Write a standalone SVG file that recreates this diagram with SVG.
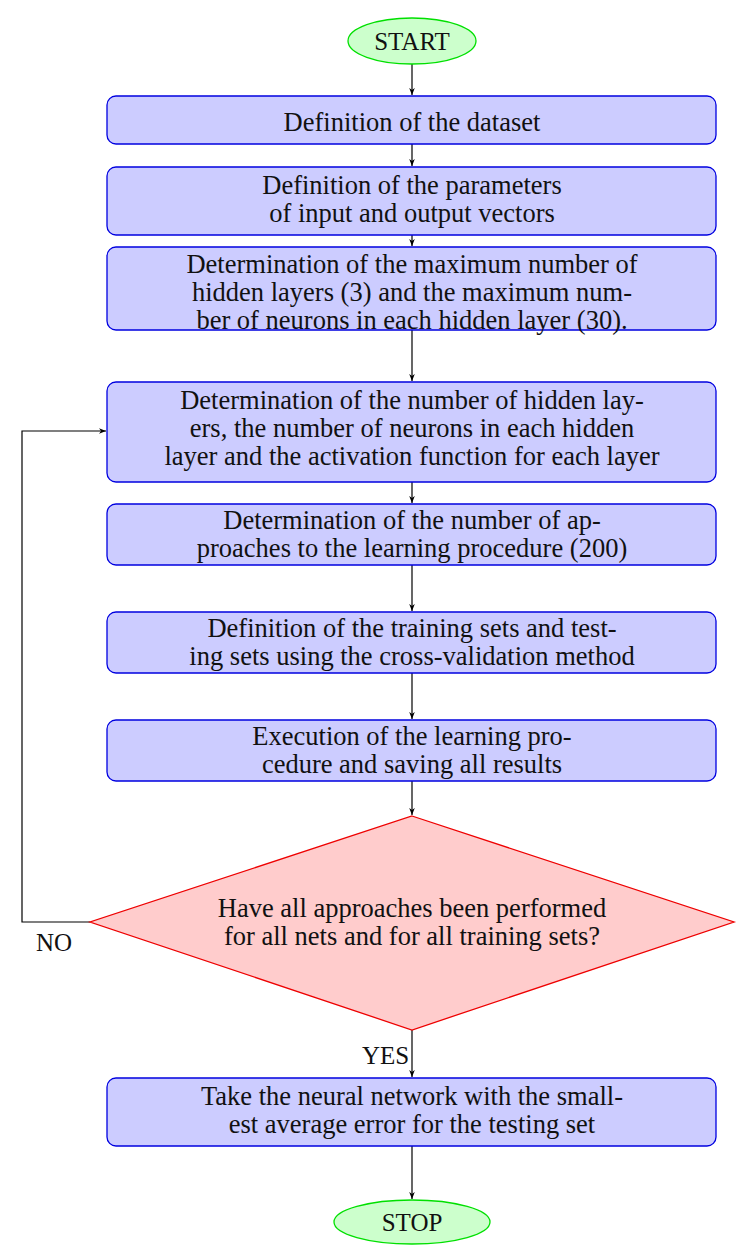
<svg xmlns="http://www.w3.org/2000/svg" width="751" height="1256" viewBox="0 0 751 1256">
<defs>
<marker id="ah" viewBox="0 0 10 10" refX="10" refY="5" markerWidth="7" markerHeight="7" orient="auto" markerUnits="userSpaceOnUse">
<path d="M0,1 L10,5 L0,9 L3,5 Z" fill="#000"/>
</marker>
</defs>
<style>
.box{fill:#ccccff;stroke:#0000e0;stroke-width:1.3}
.term{fill:#ccffcc;stroke:#00e000;stroke-width:1.3}
.dec{fill:#ffcccc;stroke:#ee0000;stroke-width:1.3}
.t{font-family:"Liberation Serif","DejaVu Serif",serif;font-size:26.5px;fill:#111;text-anchor:middle}
.ts{font-family:"Liberation Serif","DejaVu Serif",serif;font-size:25px;fill:#111;text-anchor:middle}
.lbl{font-family:"Liberation Serif","DejaVu Serif",serif;font-size:25px;fill:#111}
.c{fill:none;stroke:#000;stroke-width:1.2;marker-end:url(#ah)}
</style>
<rect width="751" height="1256" fill="#fff"/>
<g id="connectors">
<path class="c" d="M412,64 V95"/>
<path class="c" d="M412,144 V166"/>
<path class="c" d="M412,235 V246"/>
<path class="c" d="M412,330 V381"/>
<path class="c" d="M412,482 V503"/>
<path class="c" d="M412,565 V611"/>
<path class="c" d="M412,673 V719"/>
<path class="c" d="M412,781 V815"/>
<path class="c" d="M90,922 H22 V431 H106"/>
<path class="c" d="M412,1030 V1077"/>
<path class="c" d="M412,1146 V1199"/>
<text class="lbl" x="36" y="951">NO</text>
<text class="lbl" x="362" y="1064">YES</text>
</g>
<g id="start">
<ellipse class="term" cx="412" cy="41" rx="64" ry="23"/>
<text class="ts" x="412" y="50">START</text>
</g>
<g id="n1">
<rect class="box" x="107" y="96" width="609" height="48" rx="9"/>
<text class="t" x="412" y="131">Definition of the dataset</text>
</g>
<g id="n2">
<rect class="box" x="107" y="167" width="609" height="68" rx="9"/>
<text class="t" x="412" y="194">Definition of the parameters</text>
<text class="t" x="412" y="222">of input and output vectors</text>
</g>
<g id="n3">
<rect class="box" x="107" y="247" width="609" height="83" rx="9"/>
<text class="t" x="412" y="273">Determination of the maximum number of</text>
<text class="t" x="412" y="301">hidden layers (3) and the maximum num-</text>
<text class="t" x="412" y="329">ber of neurons in each hidden layer (30).</text>
</g>
<g id="n4">
<rect class="box" x="107" y="382" width="609" height="100" rx="9"/>
<text class="t" x="412" y="409">Determination of the number of hidden lay-</text>
<text class="t" x="412" y="437">ers, the number of neurons in each hidden</text>
<text class="t" x="412" y="465">layer and the activation function for each layer</text>
</g>
<g id="n5">
<rect class="box" x="107" y="504" width="609" height="61" rx="9"/>
<text class="t" x="412" y="529">Determination of the number of ap-</text>
<text class="t" x="412" y="557">proaches to the learning procedure (200)</text>
</g>
<g id="n6">
<rect class="box" x="107" y="612" width="609" height="61" rx="9"/>
<text class="t" x="412" y="637">Definition of the training sets and test-</text>
<text class="t" x="412" y="665">ing sets using the cross-validation method</text>
</g>
<g id="n7">
<rect class="box" x="107" y="720" width="609" height="61" rx="9"/>
<text class="t" x="412" y="745">Execution of the learning pro-</text>
<text class="t" x="412" y="773">cedure and saving all results</text>
</g>
<g id="decision">
<polygon class="dec" points="412,816 734,922 412,1030 90,922"/>
<text class="t" x="412" y="917">Have all approaches been performed</text>
<text class="t" x="412" y="945">for all nets and for all training sets?</text>
</g>
<g id="n8">
<rect class="box" x="107" y="1078" width="609" height="68" rx="9"/>
<text class="t" x="412" y="1105">Take the neural network with the small-</text>
<text class="t" x="412" y="1133">est average error for the testing set</text>
</g>
<g id="stop">
<ellipse class="term" cx="412" cy="1222" rx="78" ry="22"/>
<text class="ts" x="412" y="1231">STOP</text>
</g>
</svg>
